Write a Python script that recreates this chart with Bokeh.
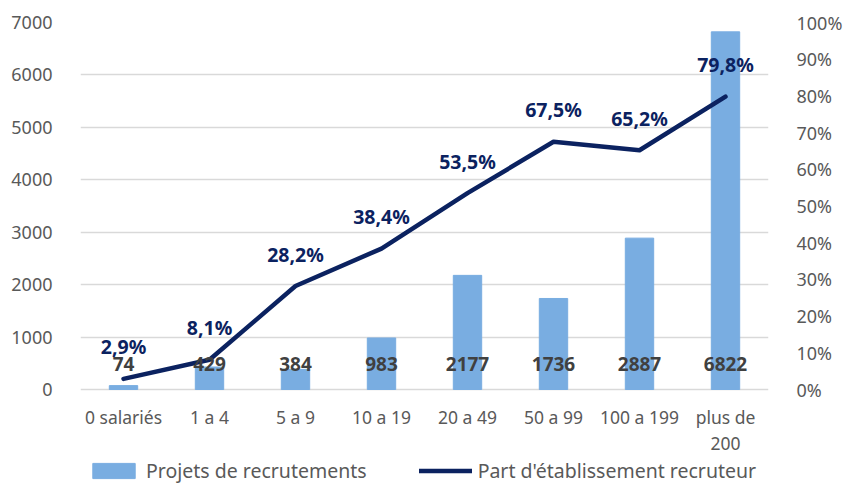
from bokeh.plotting import figure
from bokeh.models import (ColumnDataSource, FactorRange, Range1d, LinearAxis, FixedTicker,
                          NumeralTickFormatter, Legend, LegendItem)
from bokeh.core.properties import value
from bokeh.embed import file_html
from bokeh.resources import INLINE

categories = ["0 salariés", "1 a 4", "5 a 9", "10 a 19", "20 a 49", "50 a 99", "100 a 199", "plus de 200"]
cat_labels = ["0 salariés", "1 a 4", "5 a 9", "10 a 19", "20 a 49", "50 a 99", "100 a 199", "plus de\n200"]
projets = [74, 429, 384, 983, 2177, 1736, 2887, 6822]
part = [0.029, 0.081, 0.282, 0.384, 0.535, 0.675, 0.652, 0.798]
part_labels = ["2,9%", "8,1%", "28,2%", "38,4%", "53,5%", "67,5%", "65,2%", "79,8%"]
left_ticks = [0, 1000, 2000, 3000, 4000, 5000, 6000, 7000]
right_ticks = [0, 0.1, 0.2, 0.3, 0.4, 0.5, 0.6, 0.7, 0.8, 0.9, 1.0]

FONT = "Noto Sans"
BAR = "#79ADE1"
NAVY = "#0B2260"
GREY = "#595959"

# layout (pixels)
W, H = 845, 484
TOP, LEFT, PLOT_W, PLOT_H = 22, 80, 692, 367
below_px = H - TOP - PLOT_H          # extra frame space under the zero line
ymax_l, ymax_r = 7000, 1.0
ymin_l = -below_px / PLOT_H * ymax_l
ymin_r = -below_px / PLOT_H * ymax_r

src = ColumnDataSource(dict(cat=categories, projets=projets, part=part,
                            plab=part_labels, clab=[str(v) for v in projets],
                            xlab=cat_labels, zero=[0] * len(categories)))

p = figure(width=W, height=H, x_range=FactorRange(*categories, range_padding=0),
           y_range=Range1d(ymin_l, ymax_l), output_backend="svg", toolbar_location=None,
           min_border_left=LEFT, min_border_right=W - LEFT - PLOT_W, min_border_top=TOP,
           min_border_bottom=0)
p.extra_y_ranges = {"pct": Range1d(ymin_r, ymax_r)}
p.outline_line_color = None
p.background_fill_color = "white"

bars = p.vbar(x="cat", top="projets", bottom=0, width=0.33, source=src, color=BAR)
line = p.line(x="cat", y="part", source=src, y_range_name="pct", line_color=NAVY,
              line_width=4.5, line_join="round", line_cap="round")

p.text(x="cat", y="zero", text="clab", source=src, text_align="center", text_baseline="middle",
       y_offset=-26, text_font=value(FONT), text_font_size="19px", text_font_style="bold",
       text_color="#404040")
p.text(x="cat", y="part", text="plab", source=src, y_range_name="pct", text_align="center",
       text_baseline="middle", y_offset=-32, text_font=value(FONT), text_font_size="19.5px",
       text_font_style="bold", text_color=NAVY)
# category labels (x axis)
p.text(x="cat", y="zero", text="xlab", source=src, text_align="center", text_baseline="top",
       y_offset=15, text_font=value(FONT), text_font_size="17.5px", text_color=GREY,
       text_line_height=1.1)

p.xaxis.visible = False

ya = p.yaxis[0]
ya.ticker = FixedTicker(ticks=left_ticks)
ya.axis_line_color = None
ya.major_tick_line_color = None
ya.minor_tick_line_color = None
ya.major_label_text_font = FONT
ya.major_label_text_font_size = "18px"
ya.major_label_text_color = GREY
ya.major_label_standoff = 22

ra = LinearAxis(y_range_name="pct", ticker=FixedTicker(ticks=right_ticks),
                formatter=NumeralTickFormatter(format="0%"))
ra.axis_line_color = None
ra.major_tick_line_color = None
ra.minor_tick_line_color = None
ra.major_label_text_font = FONT
ra.major_label_text_font_size = "18px"
ra.major_label_text_color = GREY
ra.major_label_standoff = 22
p.add_layout(ra, "right")

p.xgrid.grid_line_color = None
p.ygrid.grid_line_color = "#D9D9D9"
p.ygrid.grid_line_width = 1.5
p.ygrid.ticker = FixedTicker(ticks=left_ticks)

legend = Legend(items=[LegendItem(label="Projets de recrutements", renderers=[bars]),
                       LegendItem(label="Part d'établissement recruteur", renderers=[line])],
                orientation="horizontal", location=(7, 0), padding=0, margin=0,
                border_line_color=None, background_fill_alpha=0,
                glyph_width=53, glyph_height=19, label_text_font=FONT,
                label_text_font_size="19.5px", label_text_color=GREY, spacing=52,
                label_standoff=6)
p.add_layout(legend)

open("out.html", "w").write(file_html(p, INLINE))
